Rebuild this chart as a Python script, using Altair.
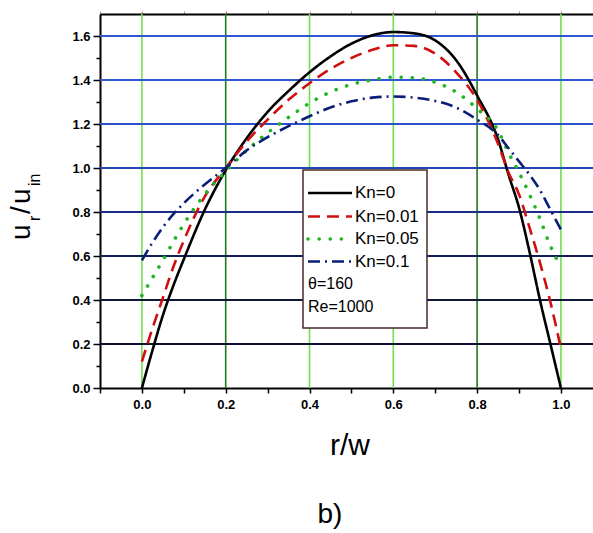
import altair as alt
import pandas as pd

# ---- data ----
series_names = ["Kn=0", "Kn=0.01", "Kn=0.05", "Kn=0.1"]

r_grid = [0.0, 0.025, 0.05, 0.075, 0.1, 0.15, 0.2, 0.25, 0.3, 0.35, 0.4, 0.45, 0.5,
          0.55, 0.6, 0.65, 0.7, 0.75, 0.8, 0.85, 0.875, 0.9, 0.925, 0.95, 0.975, 1.0]

u_kn0 = [0.0, 0.17, 0.33, 0.465, 0.585, 0.81, 0.99, 1.135, 1.255, 1.35, 1.435, 1.507, 1.565,
         1.603, 1.618, 1.612, 1.58, 1.49, 1.33, 1.13, 0.97, 0.82, 0.62, 0.40, 0.20, 0.0]
u_kn001 = [0.12, 0.27, 0.41, 0.55, 0.67, 0.87, 1.0, 1.12, 1.22, 1.31, 1.385, 1.45, 1.50,
           1.537, 1.558, 1.555, 1.52, 1.435, 1.31, 1.11, 0.98, 0.88, 0.73, 0.57, 0.39, 0.18]
u_kn005 = [0.42, 0.50, 0.58, 0.665, 0.745, 0.88, 0.985, 1.08, 1.16, 1.23, 1.295, 1.345, 1.38,
           1.40, 1.413, 1.41, 1.39, 1.345, 1.27, 1.17, 1.07, 0.98, 0.88, 0.77, 0.645, 0.55]
u_kn01 = [0.58, 0.66, 0.73, 0.79, 0.84, 0.925, 1.00, 1.08, 1.14, 1.19, 1.235, 1.275, 1.303,
          1.32, 1.325, 1.32, 1.305, 1.275, 1.22, 1.15, 1.09, 1.03, 0.97, 0.90, 0.81, 0.72]

series_values = [u_kn0, u_kn001, u_kn005, u_kn01]

x_ticks = [-0.1, 0.0, 0.1, 0.2, 0.3, 0.4, 0.5, 0.6, 0.7, 0.8, 0.9, 1.0]
y_ticks = [0.0, 0.1, 0.2, 0.3, 0.4, 0.5, 0.6, 0.7, 0.8, 0.9, 1.0, 1.1, 1.2, 1.3, 1.4, 1.5, 1.6]

hgrid_values = [0.2, 0.4, 0.6, 0.8, 1.0, 1.2, 1.4, 1.6]
vgrid_values = [0.0, 0.2, 0.4, 0.6, 0.8, 1.0]

extra_legend_lines = ["\u03b8=160", "Re=1000"]

# ---- styles ----
series_colors = ["#000000", "#d01010", "#22b422", "#0a1e78"]
series_dash = [[1, 0], [12, 7], [0.1, 11], [12, 5, 2, 5]]
series_width = [2.6, 2.6, 3.6, 2.6]
series_cap = ["butt", "butt", "round", "butt"]
hgrid_colors = ["#101030", "#101838", "#121c55", "#1a2c88", "#2444b0", "#2c50cc",
                "#2f55d0", "#2f55d0"]
vgrid_colors = ["#70e050", "#1e7a1e", "#70e050", "#70e050", "#1e7a1e", "#70e050"]

FONT = "Liberation Sans"
W, H = 493, 374
x_scale = alt.Scale(domain=[-0.1, -0.1 + W / 419.0], nice=False, zero=False)
y_scale = alt.Scale(domain=[0.0, 1.7], nice=False, zero=False)

is_major = "round(datum.value*10) % 2 == 0"
label_expr = f"{is_major} ? format(datum.value, '.1f') : ''"

yax = alt.Axis(orient="left", values=y_ticks, labelExpr=label_expr, title=None,
               labelFont=FONT, labelFontSize=13, labelFontWeight="bold",
               labelColor="#000000", labelPadding=3, domainColor="#000000",
               domainWidth=2, tickColor="#000000", tickWidth=1.5,
               tickSize={"condition": {"test": is_major, "value": 7}, "value": 4},
               grid=False, labelFlush=False)
xax_bottom = alt.Axis(orient="bottom", values=x_ticks, labelExpr=label_expr, title=None,
                      labelFont=FONT, labelFontSize=13, labelFontWeight="bold",
                      labelColor="#000000", labelPadding=5, domainColor="#000000",
                      domainWidth=2, tickColor="#000000", tickWidth=1.5, tickSize=5,
                      grid=False, labelFlush=False)
xax_top = alt.Axis(orient="top", values=x_ticks + [1.1], labels=False, title=None,
                   domainColor="#000000", domainWidth=2,
                   tickColor="#c09090", tickSize=3, tickWidth=1, grid=False)

# ---- grid ----
vdf = pd.DataFrame({"v": vgrid_values, "c": vgrid_colors})
vgrid = alt.Chart(vdf).mark_rule(strokeWidth=1.6).encode(
    x=alt.X("v:Q", scale=x_scale, axis=xax_top),
    color=alt.Color("c:N", scale=None),
)
hdf = pd.DataFrame({"v": hgrid_values, "c": hgrid_colors})
hgrid = alt.Chart(hdf).mark_rule(strokeWidth=1.8).encode(
    y=alt.Y("v:Q", scale=y_scale, axis=yax),
    color=alt.Color("c:N", scale=None),
)

# ---- curves ----
curve_layers = []
for i, name in enumerate(series_names):
    df = pd.DataFrame({"r": r_grid, "u": series_values[i]})
    layer = alt.Chart(df).mark_line(
        color=series_colors[i], strokeDash=series_dash[i], strokeWidth=series_width[i],
        strokeCap=series_cap[i], interpolate="monotone",
    ).encode(
        x=alt.X("r:Q", scale=x_scale, axis=xax_bottom if i == 0 else None),
        y=alt.Y("u:Q", scale=y_scale, axis=yax),
        order="r:Q",
    )
    curve_layers.append(layer)

# ---- legend (custom box) ----
one = pd.DataFrame({"a": [0]})
legend_layers = [
    alt.Chart(one).mark_rect(fill="white", stroke="#4a2a2a", strokeWidth=1.5).encode(
        x=alt.value(203), x2=alt.value(327), y=alt.value(156), y2=alt.value(314))
]
row_y = [179, 202.5, 225, 247.5, 270, 293]
for i, name in enumerate(series_names):
    legend_layers.append(
        alt.Chart(one).mark_rule(color=series_colors[i], strokeDash=series_dash[i],
                                 strokeWidth=series_width[i], strokeCap=series_cap[i]).encode(
            x=alt.value(208), x2=alt.value(252), y=alt.value(row_y[i]))
    )
    legend_layers.append(
        alt.Chart(one).mark_text(text=name, font=FONT, fontSize=17, align="left",
                                 baseline="middle", color="#000000").encode(
            x=alt.value(255), y=alt.value(row_y[i]))
    )
for j, t in enumerate(extra_legend_lines):
    legend_layers.append(
        alt.Chart(one).mark_text(text=t, font=FONT, fontSize=16, align="left",
                                 baseline="middle", color="#000000").encode(
            x=alt.value(208), y=alt.value(row_y[4 + j]))
    )

# ---- titles ----
def txt(s, x, y, size, angle=0, align="center", baseline="middle", font=FONT):
    kw = dict(text=s, font=font, fontSize=size, align=align, baseline=baseline,
              color="#000000")
    if angle:
        kw["angle"] = angle
    return alt.Chart(one).mark_text(**kw).encode(x=alt.value(x), y=alt.value(y))

title_layers = [
    txt("u", -70, 226, 28, angle=270, align="left", baseline="alphabetic"),
    txt("r", -60, 207, 16, angle=270, align="left", baseline="alphabetic"),
    txt("/", -70, 200, 28, angle=270, align="left", baseline="alphabetic"),
    txt("u", -70, 190, 28, angle=270, align="left", baseline="alphabetic"),
    txt("in", -60, 172, 16, angle=270, align="left", baseline="alphabetic"),
    txt("r/w", 250, 432, 30),
    txt("b)", 230, 501, 28),
]

chart = alt.layer(vgrid, hgrid, *curve_layers, *legend_layers, *title_layers).resolve_axis(
    x="independent"
).properties(
    width=W, height=H,
    autosize=alt.AutoSizeParams(type="none"),
    padding={"left": 100, "top": 14, "right": 0, "bottom": 145},
).configure_view(stroke=None).configure(background="white")

chart.save("out.html", embed_options={"renderer": "svg", "actions": False})
